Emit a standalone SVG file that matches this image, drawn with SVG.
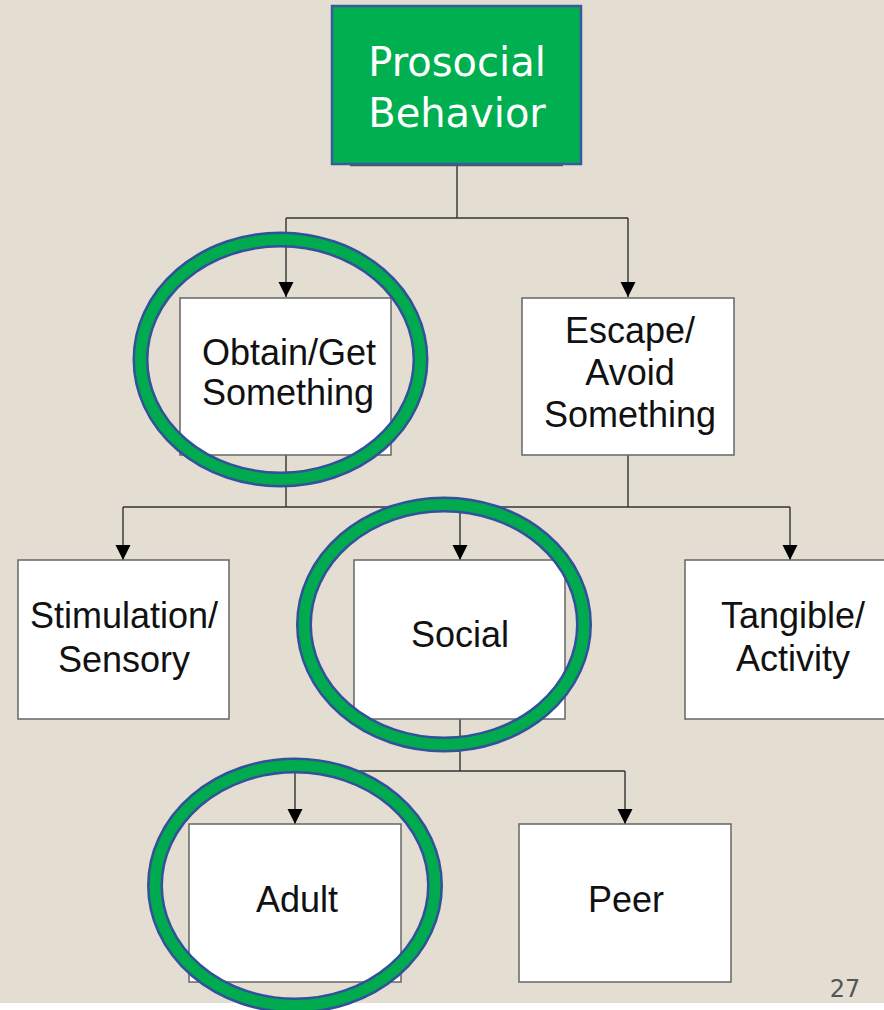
<svg xmlns="http://www.w3.org/2000/svg" width="884" height="1010" viewBox="0 0 884 1010">
  <style>
    .box { fill: #ffffff; stroke: #666666; stroke-width: 1.5; }
    .lbl { font-family: "Liberation Sans", Arial, sans-serif; font-size: 36px; fill: #111111; text-anchor: middle; }
    .conn { fill: none; stroke: #333333; stroke-width: 1.4; }
    .ring-b { fill: none; stroke: #33509A; stroke-width: 16; }
    .ring-g { fill: none; stroke: #00AA4F; stroke-width: 11; }
  </style>
  <defs>
    <marker id="arr" markerUnits="userSpaceOnUse" markerWidth="16" markerHeight="17" refX="8" refY="16" orient="auto-start-reverse" viewBox="0 0 16 17">
      <path d="M0,0 L16,0 L8,16 Z" fill="#000000" transform="rotate(0)"/>
    </marker>
    <marker id="arrD" markerUnits="userSpaceOnUse" markerWidth="16" markerHeight="17" refX="16" refY="8" orient="auto" viewBox="0 0 17 16">
      <path d="M0,0 L16,8 L0,16 Z" fill="#000000"/>
    </marker>
  </defs>
  <rect x="0" y="0" width="884" height="1010" fill="#E3DDD2"/>
  <rect x="0" y="1003" width="884" height="7" fill="#ffffff"/>

  <g id="connectors">
    <path class="conn" d="M457,165 V218"/>
    <path class="conn" d="M286,218 H628"/>
    <path class="conn" d="M286,218 V297" marker-end="url(#arrD)"/>
    <path class="conn" d="M628,218 V297" marker-end="url(#arrD)"/>
    <path class="conn" d="M286,455 V507"/>
    <path class="conn" d="M628,455 V507"/>
    <path class="conn" d="M123,507 H790"/>
    <path class="conn" d="M123,507 V560" marker-end="url(#arrD)"/>
    <path class="conn" d="M460,507 V560" marker-end="url(#arrD)"/>
    <path class="conn" d="M790,507 V560" marker-end="url(#arrD)"/>
    <path class="conn" d="M460,719 V771"/>
    <path class="conn" d="M295,771 H625"/>
    <path class="conn" d="M295,771 V824" marker-end="url(#arrD)"/>
    <path class="conn" d="M625,771 V824" marker-end="url(#arrD)"/>
  </g>

  <g id="node-prosocial">
    <line x1="350" y1="165.5" x2="563" y2="165.5" stroke="#555555" stroke-width="1.5"/>
    <rect x="332" y="6" width="249" height="158" fill="#00AF50" stroke="#3A5AA0" stroke-width="2.5"/>
    <text x="457" y="76" font-family="DejaVu Sans, sans-serif" font-size="40" fill="#ffffff" text-anchor="middle">Prosocial</text>
    <text x="457" y="127" font-family="DejaVu Sans, sans-serif" font-size="40" fill="#ffffff" text-anchor="middle">Behavior</text>
  </g>

  <g id="node-obtain">
    <rect class="box" x="180" y="298" width="211" height="157"/>
    <text class="lbl" x="289" y="365">Obtain/Get</text>
    <text class="lbl" x="288" y="405">Something</text>
  </g>

  <g id="node-escape">
    <rect class="box" x="522" y="298" width="212" height="157"/>
    <text class="lbl" x="630" y="343">Escape/</text>
    <text class="lbl" x="630" y="385">Avoid</text>
    <text class="lbl" x="630" y="427">Something</text>
  </g>

  <g id="node-stimulation">
    <rect class="box" x="18" y="560" width="211" height="159"/>
    <text class="lbl" x="124" y="628">Stimulation/</text>
    <text class="lbl" x="124" y="672">Sensory</text>
  </g>

  <g id="node-social">
    <rect class="box" x="354" y="560" width="211" height="159"/>
    <text class="lbl" x="460" y="647">Social</text>
  </g>

  <g id="node-tangible">
    <rect class="box" x="685" y="560" width="212" height="159"/>
    <text class="lbl" x="793" y="628">Tangible/</text>
    <text class="lbl" x="793" y="671">Activity</text>
  </g>

  <g id="node-adult">
    <rect class="box" x="189" y="824" width="212" height="158"/>
    <text class="lbl" x="297" y="912">Adult</text>
  </g>

  <g id="node-peer">
    <rect class="box" x="519" y="824" width="212" height="158"/>
    <text class="lbl" x="626" y="912">Peer</text>
  </g>

  <g id="highlight-rings">
    <ellipse class="ring-b" cx="280.5" cy="359.5" rx="140" ry="120"/>
    <ellipse class="ring-g" cx="280.5" cy="359.5" rx="140" ry="120"/>
    <ellipse class="ring-b" cx="444" cy="624.5" rx="140" ry="120"/>
    <ellipse class="ring-g" cx="444" cy="624.5" rx="140" ry="120"/>
    <ellipse class="ring-b" cx="295" cy="885.5" rx="140" ry="120"/>
    <ellipse class="ring-g" cx="295" cy="885.5" rx="140" ry="120"/>
  </g>

  <text x="845" y="997" font-family="DejaVu Sans, sans-serif" font-size="24" fill="#555555" text-anchor="middle">27</text>
</svg>
